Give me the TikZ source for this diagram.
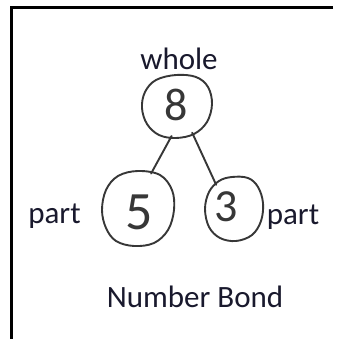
\documentclass[tikz,border=0pt]{standalone}
\usepackage{fontspec}
\setmainfont{Carlito}
\usetikzlibrary{shapes.geometric,calc}
\definecolor{inkc}{RGB}{25,25,45}
\definecolor{pencil}{RGB}{55,55,55}
\tikzset{
  lbl/.style={font=\fontsize{31}{31}\selectfont, text=inkc, inner sep=0pt, anchor=base},
  digit/.style={font=\fontsize{46}{46}\selectfont, text=pencil, inner sep=0pt},
  bubble/.style={ellipse, draw=none, inner sep=0pt},
  sketch/.style={draw=pencil, line width=1.9pt, line cap=round, line join=round},
  frame/.style={draw=black, line width=2.4pt}
}
\begin{document}
\begin{tikzpicture}[x=1pt,y=1pt]
\useasboundingbox (0,0) rectangle (338,339);
\fill[white] (0,0) rectangle (338,339);
% frame (top and left edges)
\coordinate (fr) at (333,331.5);
\coordinate (fc) at (11.5,331.5);
\coordinate (fb) at (11.5,-3);
\draw[frame] (fr) -- (fc) -- (fb);

% bubbles (anchors for connectors)
\node[bubble, minimum width=70pt, minimum height=62pt] (c8) at (176,233) {};
\node[bubble, minimum width=71pt, minimum height=76pt] (c5) at (138,131) {};
\node[bubble, minimum width=58pt, minimum height=64pt] (c3) at (234,130) {};

% hand drawn outlines
\draw[sketch, shift={(c8.center)}] plot[smooth cycle, tension=0.6] coordinates
 {(0,31) (20,29) (32,19) (36,2) (31,-16) (18,-28) (0,-32) (-17,-29) (-29,-18) (-34,-2) (-31,14) (-20,26)};
\draw[sketch, shift={(c5.center)}] plot[smooth cycle, tension=0.6] coordinates
 {(0,37) (22,33) (34,18) (36,-2) (30,-22) (16,-35) (-4,-38) (-22,-33) (-32,-20) (-36,-2) (-32,18) (-20,32)};
\draw[sketch, shift={(c3.center)}] plot[smooth cycle, tension=0.6] coordinates
 {(-2,32) (14,31) (24,22) (29,6) (27,-12) (18,-26) (2,-32) (-14,-29) (-25,-18) (-29,0) (-25,17) (-15,28)};

% digits
\node[digit] (d8) at ($(c8)+(0,1)$) {8};
\node[digit, font=\fontsize{54}{54}\selectfont] (d5) at ($(c5)+(1,-4)$) {5};
\node[digit] (d3) at ($(c3)+(-8,2)$) {3};

% connectors
\draw[sketch, shorten <=-1pt, shorten >=-1pt] (c8.261) -- (c5.69);
\draw[sketch, shorten <=-1pt, shorten >=-1pt] (c8.301) -- (c3.126);

% labels
\node[lbl] (whole) at (179,269) {whole};
\node[lbl] (partL) at (54.5,115) {part};
\node[lbl] (partR) at (293,114) {part};
\node[lbl] (title) at (195,31) {Number Bond};
\end{tikzpicture}
\end{document}
